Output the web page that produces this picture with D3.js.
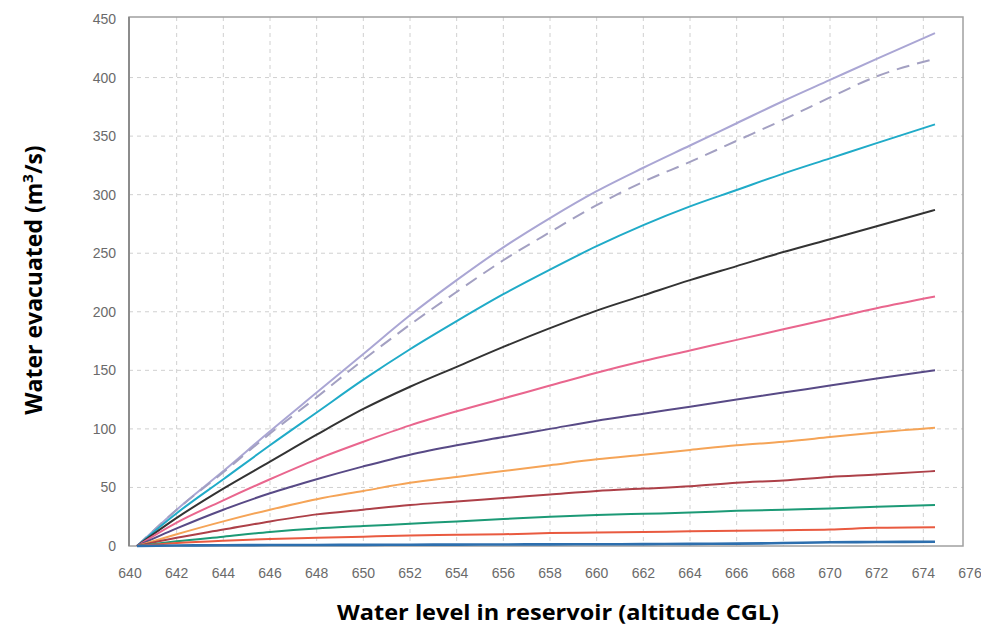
<!DOCTYPE html>
<html>
<head>
<meta charset="utf-8">
<script src="https://cdn.jsdelivr.net/npm/d3@7/dist/d3.min.js"></script>
<style>
  body { margin: 0; background: #fff; }
  svg { display: block; }
</style>
</head>
<body>
<div id="chart"></div>
<script>
// water level (altitude CGL) where each curve was read
var levels = [640.3, 642, 644, 646, 648, 650, 652, 654, 656, 658, 660, 662, 664, 666, 668, 670, 672, 674.5];

// discharge curves, m3/s, from the top curve down
var q1  = [0, 31, 64, 98, 131, 164, 197, 227, 255, 280, 303, 323, 342, 361, 380, 398, 416, 438];
var q2  = [0, 31, 63, 96, 127, 159, 189, 217, 244, 268, 291, 311, 328, 346, 364, 383, 401, 416]; // dashed
var q3  = [0, 28, 57, 86, 114, 142, 168, 192, 215, 236, 256, 274, 290, 304, 318, 331, 344, 360];
var q4  = [0, 24, 49, 72, 95, 117, 136, 153, 170, 186, 201, 214, 227, 239, 251, 262, 273, 287];
var q5  = [0, 20, 39, 57, 74, 89, 103, 115, 126, 137, 148, 158, 167, 176, 185, 194, 203, 213];
var q6  = [0, 15, 31, 45, 57, 68, 78, 86, 93, 100, 107, 113, 119, 125, 131, 137, 143, 150];
var q7  = [0, 10, 21, 31, 40, 47, 54, 59, 64, 69, 74, 78, 82, 86, 89, 93, 97, 101];
var q8  = [0, 7, 14, 21, 27, 31, 35, 38, 41, 44, 47, 49, 51, 54, 56, 59, 61, 64];
var q9  = [0, 4, 8, 12, 15, 17, 19, 21, 23, 25, 26.5, 27.5, 28.5, 30, 31, 32, 33.5, 35];
var q10 = [0, 2.5, 4.5, 6, 7, 8, 9, 9.5, 10, 11, 11.5, 12, 12.5, 13, 13.5, 14, 15.5, 16];
var q11 = [0, 0.4, 0.6, 0.8, 0.9, 1, 1.1, 1.2, 1.3, 1.4, 1.5, 1.6, 1.8, 2, 2.5, 3.2, 3.4, 3.6];

var xTicks = d3.range(640, 677, 2);
var yTicks = d3.range(0, 451, 50);

var series = [q1, q2, q3, q4, q5, q6, q7, q8, q9, q10, q11];
var colors = ["#aaa6d4", "#a3a0c2", "#20abc8", "#333333", "#e9668e", "#584a86",
              "#f5a457", "#ad4048", "#1c9a76", "#e95a40", "#2d6fae"];

var width = 981, height = 632;

var x = d3.scaleLinear().domain([640, 676]).range([130, 970]);
var y = d3.scaleLinear().domain([0, 450]).range([546, 19]);

var frame = { left: 129, right: x(675.7), top: 17, bottom: y(0) };

var svg = d3.select("#chart")
  .append("svg")
  .attr("width", width)
  .attr("height", height);

// grid
svg.append("g")
  .selectAll("line")
  .data(yTicks.filter(function(d) { return d > 0 && d < 450; }))
  .enter().append("line")
  .attr("x1", frame.left)
  .attr("x2", frame.right)
  .attr("y1", function(d) { return y(d); })
  .attr("y2", function(d) { return y(d); })
  .attr("stroke", "#d0d0d0")
  .attr("stroke-width", 1)
  .attr("stroke-dasharray", "4,4");

svg.append("g")
  .selectAll("line")
  .data(xTicks.filter(function(d) { return d > 640 && d < 676; }))
  .enter().append("line")
  .attr("x1", function(d) { return x(d); })
  .attr("x2", function(d) { return x(d); })
  .attr("y1", frame.top)
  .attr("y2", frame.bottom)
  .attr("stroke", "#d0d0d0")
  .attr("stroke-width", 1)
  .attr("stroke-dasharray", "4,4");

// frame
svg.append("rect")
  .attr("x", frame.left)
  .attr("y", frame.top)
  .attr("width", frame.right - frame.left)
  .attr("height", frame.bottom - frame.top)
  .attr("fill", "none")
  .attr("stroke", "#a0a0a0")
  .attr("stroke-width", 1.5);

svg.append("line")
  .attr("x1", frame.left).attr("x2", frame.left)
  .attr("y1", frame.top).attr("y2", frame.bottom)
  .attr("stroke", "#8c8c8c")
  .attr("stroke-width", 2);

// curves
var line = d3.line()
  .x(function(d, i) { return x(levels[i]); })
  .y(function(d) { return y(d); })
  .curve(d3.curveMonotoneX);

svg.append("g")
  .selectAll("path")
  .data(series)
  .enter().append("path")
  .attr("d", line)
  .attr("fill", "none")
  .attr("stroke", function(d, i) { return colors[i]; })
  .attr("stroke-width", function(d, i) { return i == 10 ? 2.6 : 2; })
  .attr("stroke-dasharray", function(d, i) { return i == 1 ? "13,8" : null; })
  .attr("stroke-linecap", "butt");

// tick labels
svg.append("g")
  .selectAll("text")
  .data(yTicks)
  .enter().append("text")
  .attr("x", 116)
  .attr("y", function(d) { return y(d) + 5; })
  .attr("text-anchor", "end")
  .attr("font-family", "Liberation Sans, Arial, sans-serif")
  .attr("font-size", "14px")
  .attr("fill", "#6a6a6a")
  .text(function(d) { return d; });

svg.append("g")
  .selectAll("text")
  .data(xTicks)
  .enter().append("text")
  .attr("x", function(d) { return x(d); })
  .attr("y", 578)
  .attr("text-anchor", "middle")
  .attr("font-family", "Liberation Sans, Arial, sans-serif")
  .attr("font-size", "14px")
  .attr("fill", "#6a6a6a")
  .text(function(d) { return d; });

// axis titles
svg.append("text")
  .attr("x", 558)
  .attr("y", 620)
  .attr("text-anchor", "middle")
  .attr("font-family", "Open Sans, sans-serif")
  .attr("font-weight", "bold")
  .attr("font-size", "21px")
  .attr("textLength", 442)
  .attr("lengthAdjust", "spacingAndGlyphs")
  .attr("fill", "#000")
  .text("Water level in reservoir (altitude CGL)");

var yTitle = svg.append("text")
  .attr("transform", "translate(42,280) rotate(-90)")
  .attr("text-anchor", "middle")
  .attr("font-family", "Open Sans, sans-serif")
  .attr("font-weight", "bold")
  .attr("font-size", "23px")
  .attr("fill", "#000");
yTitle.append("tspan").text("Water evacuated (m");
yTitle.append("tspan").attr("dy", -9).attr("font-size", "15px").text("3");
yTitle.append("tspan").attr("dy", 9).text("/s)");
</script>
</body>
</html>
